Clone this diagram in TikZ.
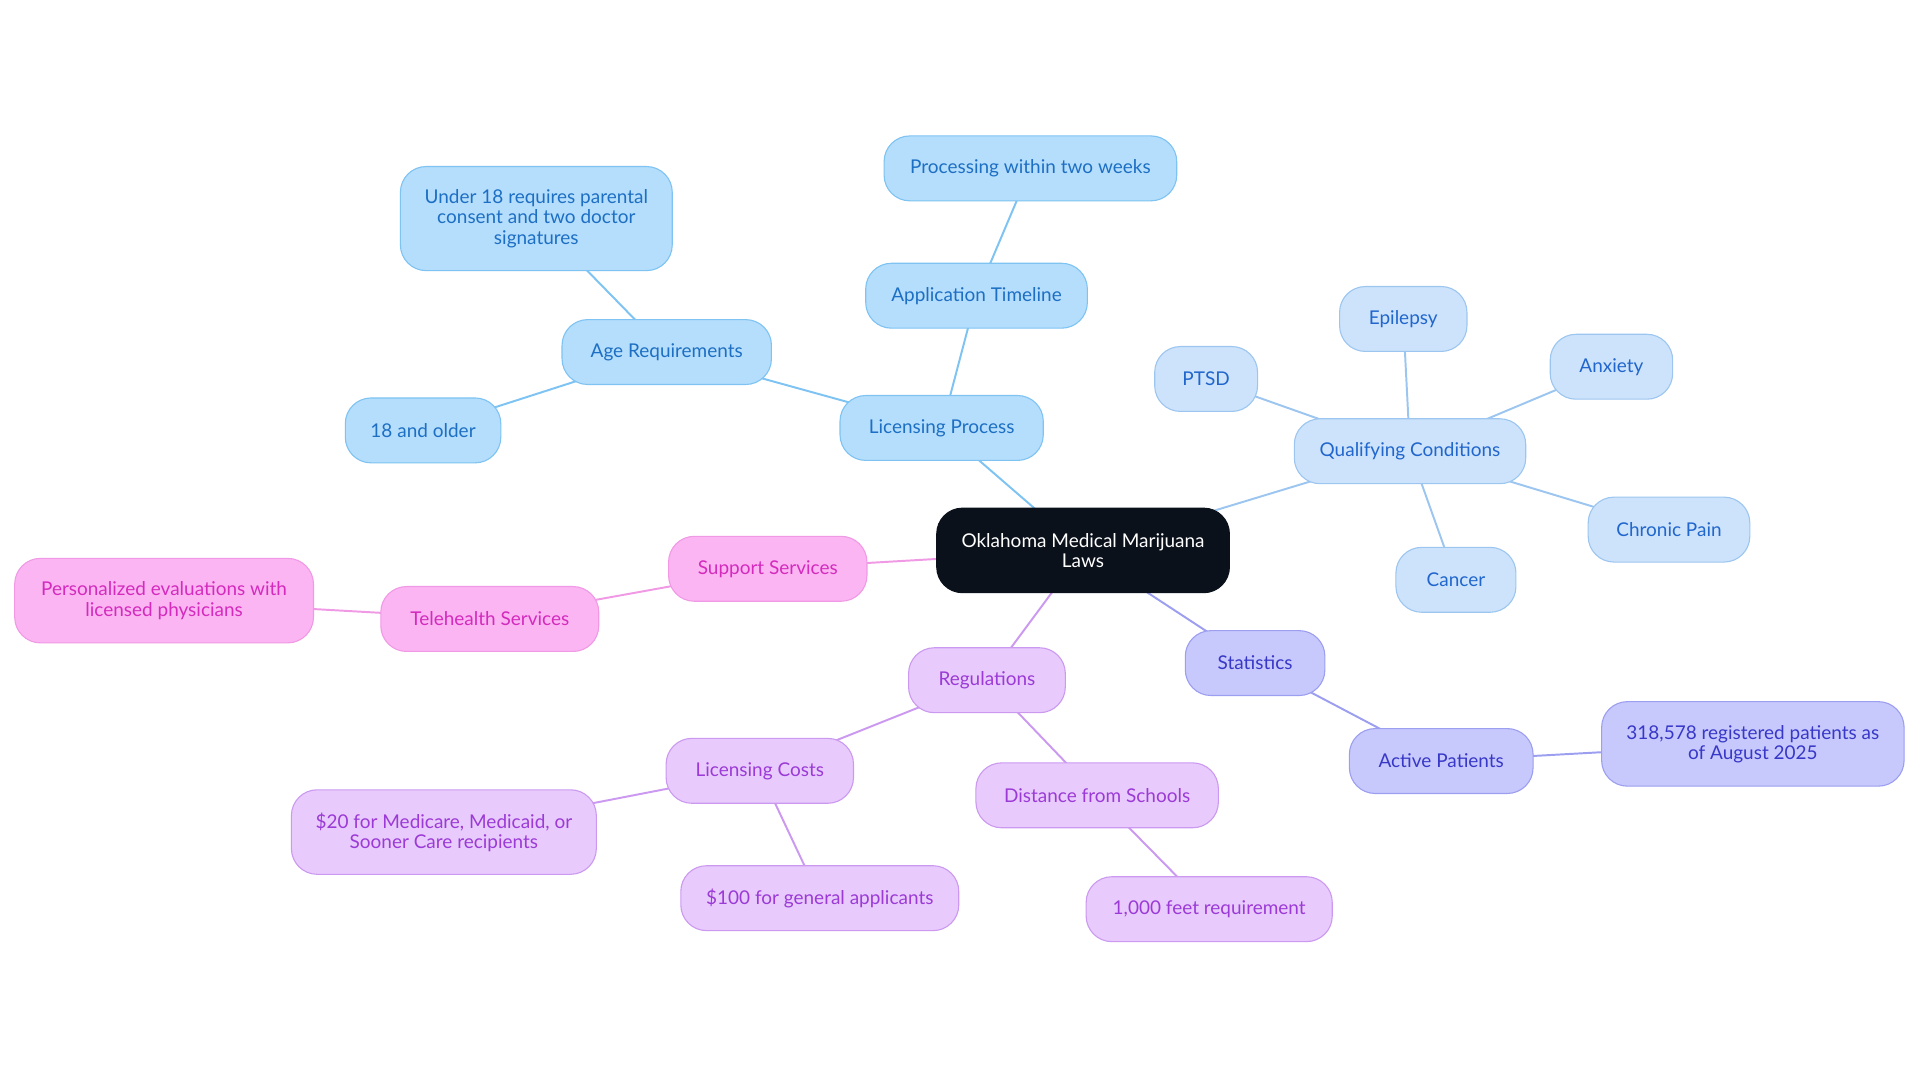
\documentclass[tikz,border=0pt]{standalone}
\usepackage{fontspec}
\setmainfont{Lato}
\usetikzlibrary{backgrounds}

\definecolor{bluFill}{HTML}{B5DEFC}
\definecolor{bluLine}{HTML}{7EC3F2}
\definecolor{bluText}{HTML}{1D6FC4}
\definecolor{qcFill}{HTML}{CDE3FB}
\definecolor{qcLine}{HTML}{9CC6F0}
\definecolor{qcText}{HTML}{2166CC}
\definecolor{stFill}{HTML}{C7C9FC}
\definecolor{stLine}{HTML}{9C9EF0}
\definecolor{stText}{HTML}{3838C8}
\definecolor{rgFill}{HTML}{E8CBFC}
\definecolor{rgLine}{HTML}{CC99F0}
\definecolor{rgText}{HTML}{9B3AD6}
\definecolor{spFill}{HTML}{FBB5F3}
\definecolor{spLine}{HTML}{F09AE5}
\definecolor{spText}{HTML}{D42BBD}
\definecolor{rootFill}{HTML}{0B111B}

\tikzset{
  bubble/.style={rounded corners=21pt, minimum height=53pt, align=center,
    inner sep=2pt, line width=0.9pt, font=\fontsize{15.5}{16.5}\selectfont},
  root/.style={bubble, fill=rootFill, draw=rootFill, text=white, minimum height=69pt},
  blu/.style={bubble, fill=bluFill, draw=bluLine, text=bluText},
  qc/.style={bubble, fill=qcFill, draw=qcLine, text=qcText},
  st/.style={bubble, fill=stFill, draw=stLine, text=stText},
  rg/.style={bubble, fill=rgFill, draw=rgLine, text=rgText},
  sp/.style={bubble, fill=spFill, draw=spLine, text=spText},
  link/.style={line width=1.6pt}
}

\begin{document}
\begin{tikzpicture}[x=1pt, y=-1pt]
\useasboundingbox (0,0) rectangle (1568,884);

% centro
\node[root, minimum width=239] (olaw) at (884.5,449.5) {Oklahoma Medical Marijuana\\Laws};

% licenze
\node[blu, minimum width=166] (lic) at (769,349.5) {Licensing Process};
\node[blu, minimum width=181] (apptime) at (797.5,241.5) {Application Timeline};
\node[blu, minimum width=239] (twoweeks) at (841.5,137.5) {Processing within two weeks};
\node[blu, minimum width=171] (agereq) at (544.5,287.5) {Age Requirements};
\node[blu, minimum width=222, minimum height=85] (under18) at (438,178.5) {Under 18 requires parental\\consent and two doctor\\signatures};
\node[blu, minimum width=127] (over18) at (345.5,351.5) {18 and older};

% condizioni
\node[qc, minimum width=189] (qual) at (1151.5,368.5) {Qualifying Conditions};
\node[qc, minimum width=84] (ptsd) at (985,309.5) {PTSD};
\node[qc, minimum width=104] (epil) at (1146,260.5) {Epilepsy};
\node[qc, minimum width=100] (anx) at (1316,299.5) {Anxiety};
\node[qc, minimum width=132] (pain) at (1363,432.5) {Chronic Pain};
\node[qc, minimum width=98] (canc) at (1189,473.5) {Cancer};

% supporto
\node[sp, minimum width=162] (supp) at (627,464.5) {Support Services};
\node[sp, minimum width=178] (tele) at (400,505.5) {Telehealth Services};
\node[sp, minimum width=244, minimum height=69] (perseval) at (134,490.5) {Personalized evaluations with\\licensed physicians};

% regole
\node[rg, minimum width=128] (regs) at (806,555.5) {Regulations};
\node[rg, minimum width=153] (lcost) at (620.5,629.5) {Licensing Costs};
\node[rg, minimum width=249, minimum height=69] (cost20) at (362.5,679.5) {\$20 for Medicare, Medicaid, or\\Sooner Care recipients};
\node[rg, minimum width=227] (cost100) at (669.5,733.5) {\$100 for general applicants};
\node[rg, minimum width=198] (dist) at (896,649.5) {Distance from Schools};
\node[rg, minimum width=201] (feet) at (987.5,742.5) {1,000 feet requirement};

% statistiche
\node[st, minimum width=114] (stats) at (1025,541.5) {Statistics};
\node[st, minimum width=150] (actpat) at (1177,621.5) {Active Patients};
\node[st, minimum width=247, minimum height=69] (regpat) at (1431.5,607.5) {318,578 registered patients as\\of August 2025};

% collegamenti
\begin{scope}[on background layer]
\draw[link, bluLine] (olaw.center) -- (lic.center);
\draw[link, bluLine] (lic.center) -- (apptime.center) -- (twoweeks.center);
\draw[link, bluLine] (lic.center) -- (agereq.center) -- (under18.center);
\draw[link, bluLine] (agereq.center) -- (over18.center);
\draw[link, qcLine] (olaw.center) -- (qual.center);
\foreach \c in {ptsd, epil, anx, pain, canc}
  \draw[link, qcLine] (qual.center) -- (\c.center);
\draw[link, spLine] (olaw.center) -- (supp.center) -- (tele.center) -- (perseval.center);
\draw[link, rgLine] (olaw.center) -- (regs.center) -- (lcost.center) -- (cost20.center);
\draw[link, rgLine] (lcost.center) -- (cost100.center);
\draw[link, rgLine] (regs.center) -- (dist.center) -- (feet.center);
\draw[link, stLine] (olaw.center) -- (stats.center) -- (actpat.center) -- (regpat.center);
\end{scope}

\end{tikzpicture}
\end{document}
